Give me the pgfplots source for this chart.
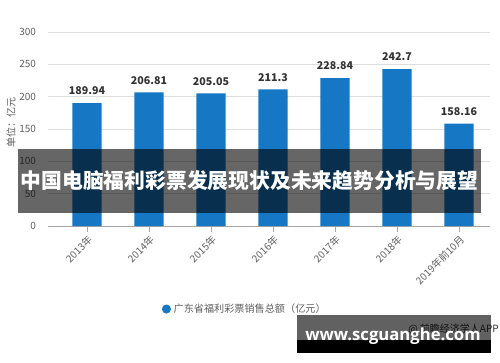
\documentclass[border=0pt]{standalone}
\usepackage{fontspec}
\setmainfont{Noto Sans CJK SC}
\newfontfamily\wmfont{Open Sans}
\usepackage{pgfplots}
\pgfplotsset{compat=1.18}
\definecolor{barblue}{RGB}{22,119,196}
\definecolor{gridgray}{RGB}{222,222,222}
\definecolor{ticklab}{RGB}{95,95,95}
\definecolor{vallab}{RGB}{51,51,51}
\begin{document}
\begin{tikzpicture}
\path[use as bounding box, fill=white] (0,0) rectangle (375pt,271.5pt);
\begin{axis}[
  at={(36pt,102pt)}, anchor=south west,
  scale only axis, width=331.5pt, height=145.5pt,
  xmin=-0.63, xmax=6.5, ymin=0, ymax=300,
  ytick={0,50,...,300},
  xtick={0,...,6},
  xticklabels={2013年,2014年,2015年,2016年,2017年,2018年,2019年前10月},
  axis x line*=bottom, axis y line*=left,
  x axis line style={draw=gray!70, -},
  y axis line style={draw=none},
  ymajorgrids, grid style={gridgray, line width=0.6pt},
  tick align=outside,
  major tick length=4.5pt,
  xtick style={draw=gray!70},
  ytick style={draw=none},
  ticklabel style={font=\fontsize{7.5}{8}\selectfont, text=ticklab},
  xticklabel style={rotate=45, anchor=north east, inner sep=1pt},
  yticklabel style={xshift=-1pt},
  /pgf/number format/assume math mode=true,
  /pgf/number format/.cd, fixed, precision=2, 1000 sep={},
  /pgfplots/.cd,
  legend style={at={(0.446,-0.428)}, anchor=center, draw=none, fill=none,
    font=\fontsize{7.6}{8}\selectfont, text=ticklab},
]
\addplot[ybar, bar width=22pt, fill=barblue, draw=none,
  nodes near coords,
  every node near coord/.append style={font=\bfseries\fontsize{8}{8}\selectfont, text=vallab, anchor=south, yshift=2.5pt},
  legend image code/.code={\fill[barblue] (0.25cm,0pt) circle (3.4pt);}
] coordinates {(0,189.94) (1,206.81) (2,205.05) (3,211.3) (4,228.84) (5,242.7) (6,158.16)};
\addlegendentry{广东省福利彩票销售总额（亿元）}
\end{axis}
\begin{scope}[shift={(0,271.5pt)}, x=0.75pt, y=-0.75pt]
  \node[rotate=90, text=ticklab, font=\fontsize{7.5}{8}\selectfont] at (11,122) {单位：亿元};
  \fill[black, opacity=0.6] (18,149) rectangle (481,213);
  \node[text=white, font=\bfseries\fontsize{15.6}{18}\selectfont] at (249.5,181) {中国电脑福利彩票发展现状及未来趋势分析与展望};
  \node[anchor=east, text=vallab, font=\fontsize{7.5}{8}\selectfont, inner sep=0pt] at (499,329) {@ 前瞻经济学人APP};
  \fill[black, opacity=0.62] (297,315) rectangle (491,340);
  \fill[black] (297,340) rectangle (491,353);
  \node[text=white, font=\wmfont\bfseries\fontsize{12.5}{14}\selectfont] at (393,336) {www.scguanghe.com};
\end{scope}
\end{tikzpicture}
\end{document}
